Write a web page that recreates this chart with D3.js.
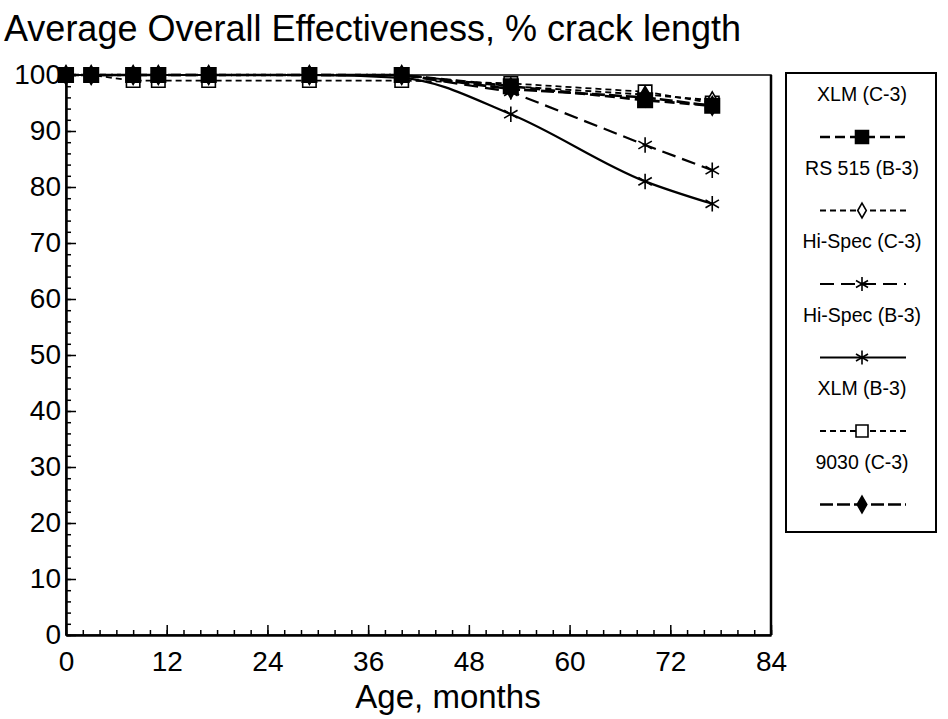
<!DOCTYPE html>
<html>
<head>
<meta charset="utf-8">
<script src="https://cdn.jsdelivr.net/npm/d3@7"></script>
<style>
  body { margin: 0; background: #fff; }
  text { font-family: "Liberation Sans", Arial, Helvetica, sans-serif; fill: #000; }
</style>
</head>
<body>
<div id="chart"></div>
<script>
// months of age where crack effectiveness was measured
var months = [0, 3, 8, 11, 17, 29, 40, 53, 69, 77];

var xlmC3     = [100, 100, 100, 100, 100, 100, 100, 98, 95.5, 94.5];
var rs515B3   = [100, 100, 100, 100, 100, 100, 100, 98, 96.5, 95.5];
var hiSpecC3  = [100, 100, 100, 100, 100, 100, 100, 97, 87.5, 83];
var hiSpecB3  = [100, 100, 100, 100, 100, 100, 99.5, 93, 81, 77];
var xlmB3     = [100, 100, 99, 99, 99, 99, 99, 98.5, 97, 95];
var c9030     = [100, 100, 100, 100, 100, 100, 100, 97.5, 96, 94.5];

var seriesNames = ['XLM (C-3)', 'RS 515 (B-3)', 'Hi-Spec (C-3)', 'Hi-Spec (B-3)', 'XLM (B-3)', '9030 (C-3)'];
var xTicks = [0, 12, 24, 36, 48, 60, 72, 84];
var yTicks = [0, 10, 20, 30, 40, 50, 60, 70, 80, 90, 100];

var width = 948;
var height = 719;
var pLeft = 66, pRight = 771, pTop = 75, pBottom = 635;

// line style + marker for each series, same order as seriesNames
var styles = [
  { values: xlmC3,    dash: '10,5', w: 2.6, sym: d3.symbolSquare,   size: 210, fill: '#000', curve: d3.curveLinear },
  { values: rs515B3,  dash: '6,4',  w: 1.8, sym: d3.symbolDiamond,  size: 80,  fill: '#fff', curve: d3.curveLinear },
  { values: hiSpecC3, dash: '14,7', w: 2.2, sym: d3.symbolAsterisk, size: 170, fill: 'none', curve: d3.curveLinear },
  { values: hiSpecB3, dash: null,   w: 2.2, sym: d3.symbolAsterisk, size: 170, fill: 'none', curve: d3.curveMonotoneX },
  { values: xlmB3,    dash: '6,4',  w: 1.8, sym: d3.symbolSquare,   size: 180, fill: '#fff', curve: d3.curveLinear },
  { values: c9030,    dash: '13,4', w: 2.6, sym: d3.symbolDiamond,  size: 100, fill: '#000', curve: d3.curveLinear }
];

var svg = d3.select('#chart').append('svg')
    .attr('width', width)
    .attr('height', height);

var xScale = d3.scaleLinear().domain([0, 84]).range([pLeft, pRight]);
var yScale = d3.scaleLinear().domain([0, 100]).range([pBottom, pTop]);

// title
svg.append('text')
    .attr('x', 4)
    .attr('y', 41)
    .style('font-size', '36px')
    .text('Average Overall Effectiveness, % crack length');

// frame of the plot
svg.append('rect')
    .attr('x', pLeft).attr('y', pTop)
    .attr('width', pRight - pLeft).attr('height', pBottom - pTop)
    .attr('fill', 'none').attr('stroke', '#000').attr('stroke-width', 1.5);

// minor ticks (inward)
svg.append('g')
    .attr('transform', 'translate(0,' + pBottom + ')')
    .call(d3.axisTop(xScale).tickValues(d3.range(0, 85, 2)).tickSize(5).tickFormat(''))
    .call(g => g.select('.domain').remove());
svg.append('g')
    .attr('transform', 'translate(' + pLeft + ',0)')
    .call(d3.axisRight(yScale).tickValues(d3.range(0, 101, 2)).tickSize(5).tickFormat(''))
    .call(g => g.select('.domain').remove());

// major ticks with labels
var xAxis = svg.append('g')
    .attr('transform', 'translate(0,' + pBottom + ')')
    .call(d3.axisBottom(xScale).tickValues(xTicks).tickSizeInner(-10).tickSizeOuter(0).tickPadding(16));
xAxis.select('.domain').attr('stroke-width', 2.5);
xAxis.selectAll('text').style('font-size', '28px').attr('fill', '#000');

var yAxis = svg.append('g')
    .attr('transform', 'translate(' + pLeft + ',0)')
    .call(d3.axisLeft(yScale).tickValues(yTicks).tickSizeInner(-10).tickSizeOuter(0).tickPadding(5));
yAxis.select('.domain').attr('stroke-width', 2.5);
yAxis.selectAll('text').style('font-size', '28px').attr('fill', '#000');
svg.selectAll('.tick line').attr('stroke-width', 1.5);

// right edge is heavier
svg.append('line')
    .attr('x1', pRight).attr('x2', pRight).attr('y1', pTop).attr('y2', pBottom)
    .attr('stroke', '#000').attr('stroke-width', 2.5);

svg.append('text')
    .attr('x', 448)
    .attr('y', 708)
    .style('text-anchor', 'middle')
    .style('font-size', '33px')
    .text('Age, months');

// lines, drawn back to front
var drawOrder = [3, 2, 4, 1, 5, 0];
drawOrder.forEach(function (k) {
  var s = styles[k];
  var line = d3.line()
      .x((d, i) => xScale(months[i]))
      .y(d => yScale(d))
      .curve(s.curve);
  svg.append('path')
      .datum(s.values)
      .attr('d', line)
      .attr('fill', 'none')
      .attr('stroke', '#000')
      .attr('stroke-width', s.w)
      .attr('stroke-dasharray', s.dash);
});
drawOrder.forEach(function (k) {
  var s = styles[k];
  svg.append('g').selectAll('path')
      .data(s.values)
      .enter()
      .append('path')
        .attr('transform', (d, i) => 'translate(' + xScale(months[i]) + ',' + yScale(d) + ')')
        .attr('d', d3.symbol().type(s.sym).size(s.size))
        .attr('fill', s.fill)
        .attr('stroke', '#000')
        .attr('stroke-width', 1.6);
});

// legend
var lg = svg.append('g');
lg.append('rect')
    .attr('x', 786).attr('y', 73)
    .attr('width', 150).attr('height', 459)
    .attr('fill', 'none').attr('stroke', '#000').attr('stroke-width', 2);

seriesNames.forEach(function (name, i) {
  var s = styles[i];
  var ty = 101 + i * 73.5;
  var ly = ty + 36;
  lg.append('text')
      .attr('x', 862).attr('y', ty)
      .style('text-anchor', 'middle')
      .style('font-size', '19.5px')
      .text(name);
  lg.append('line')
      .attr('x1', 820).attr('x2', 906).attr('y1', ly).attr('y2', ly)
      .attr('stroke', '#000')
      .attr('stroke-width', s.w)
      .attr('stroke-dasharray', s.dash);
  lg.append('path')
      .attr('transform', 'translate(862,' + ly + ')')
      .attr('d', d3.symbol().type(s.sym).size(s.size * 0.8))
      .attr('fill', s.fill)
      .attr('stroke', '#000')
      .attr('stroke-width', 1.6);
});
</script>
</body>
</html>
